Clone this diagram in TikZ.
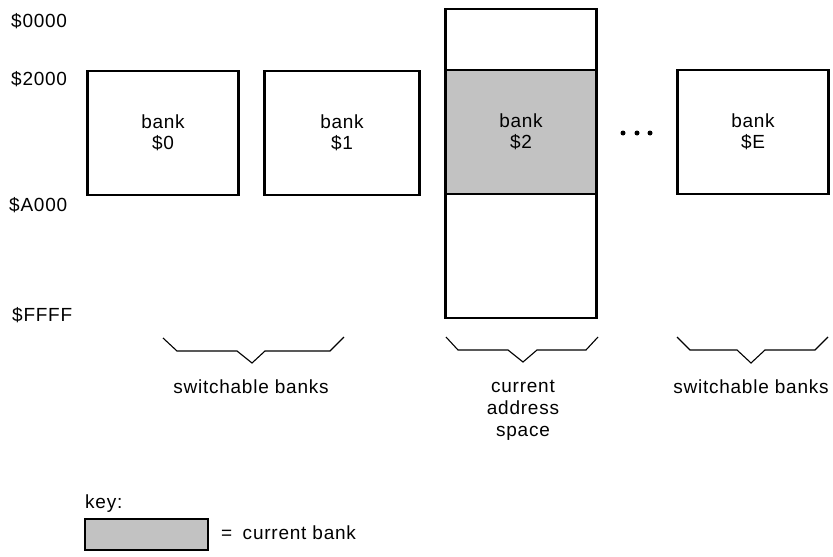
\documentclass[tikz,border=0pt]{standalone}
\usepackage{fontspec}
\setmainfont{Liberation Sans}[LetterSpace=4]
\begin{document}
\begin{tikzpicture}[x=1pt,y=-1pt,
  every node/.style={font=\fontsize{19}{21}\selectfont},
  bankbox/.style={draw=black,line width=2.2pt,minimum width=151pt,minimum height=124pt,inner sep=0pt,align=center},
  brc/.style={line width=1.1pt,line join=miter},
  addr/.style={anchor=base west,inner sep=0pt},
  captxt/.style={anchor=base,inner sep=0pt,align=center,font=\fontsize{19}{22}\selectfont},
  dotnode/.style={circle,fill=black,inner sep=0pt,minimum size=5pt}]
\useasboundingbox (0,0) rectangle (833,557);
% address labels
\node[addr] (a0) at (11,27) {\$0000};
\node[addr] (a2) at (11,85) {\$2000};
\node[addr] (aA) at (9,211) {\$A000};
\node[addr] (aF) at (12,321) {\$FFFF};
% switchable banks
\node[bankbox] (b0) at (163,133) {bank\\\$0};
\node[bankbox,minimum width=155pt] (b1) at (342,133) {bank\\\$1};
\node[bankbox] (bE) at (753,132) {bank\\\$E};
% current address space column
\node[bankbox,minimum height=61pt] (ctop) at (521,39.5) {};
\node[bankbox,minimum height=124pt,fill=black!24] (b2) at (521,132) {bank\\\$2};
\node[bankbox,minimum height=124pt] (cbot) at (521,256) {};
% dots
\node[dotnode] (d1) at (623,133) {};
\node[dotnode] (d2) at (637,133) {};
\node[dotnode] (d3) at (650,133) {};
% braces
\draw[brc] (163,338) -- (177,351) -- (237,351) -- (252,363) -- (265,351) -- (330,351) -- (344,337);
\draw[brc] (446,337) -- (458,350) -- (508,350) -- (523,362) -- (537,350) -- (586,350) -- (598,337);
\draw[brc] (677,337) -- (690,350) -- (737,350) -- (751,363) -- (765,350) -- (815,350) -- (828,337);
% captions
\node[captxt] (s1) at (251,393) {switchable banks};
\node[captxt,anchor=north] (s2) at (523,380) {current\\address\\space};
\node[captxt] (s3) at (751,393) {switchable banks};
% key
\node[addr] (key) at (85,508) {key:};
\node[bankbox,fill=black!24,minimum width=123pt,minimum height=31pt] (kb) at (146.5,534.5) {};
\node[addr] (kt) at (221,539) {=\hspace{0.55em}current bank};
\end{tikzpicture}
\end{document}
